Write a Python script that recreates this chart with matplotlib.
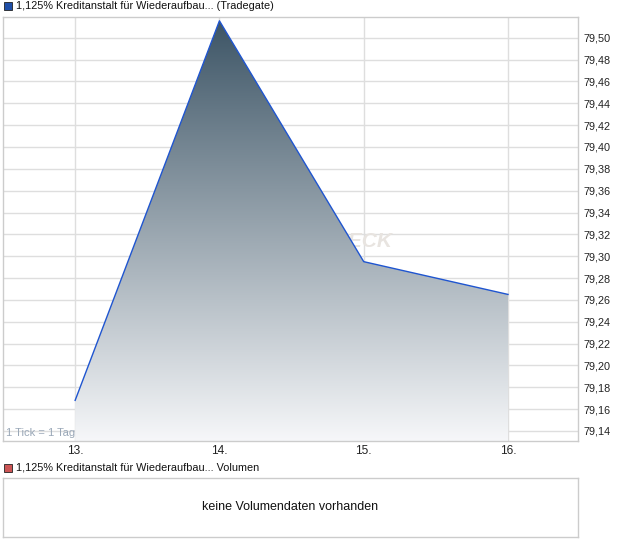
import matplotlib
matplotlib.use("Agg")
import matplotlib.pyplot as plt
import numpy as np
from matplotlib.patches import Polygon, Rectangle

plt.rcParams['font.family'] = ['Liberation Sans', 'DejaVu Sans']

days = [13, 14, 15, 16]
prices = [79.168, 79.5155, 79.295, 79.265]
xtick_labels = ["13.", "14.", "15.", "16."]
yticks = [79.14, 79.16, 79.18, 79.20, 79.22, 79.24, 79.26, 79.28, 79.30, 79.32,
          79.34, 79.36, 79.38, 79.40, 79.42, 79.44, 79.46, 79.48, 79.50]
title_main = "1,125% Kreditanstalt für Wiederaufbau... (Tradegate)"
title_vol = "1,125% Kreditanstalt für Wiederaufbau... Volumen"

W, H = 620, 546
fig = plt.figure(figsize=(W / 100, H / 100), dpi=100)

def fx(px):
    return px / W

def fy(py):
    return 1 - py / H

# main axes: x 3..578, y 17..441
ax = fig.add_axes([fx(3), fy(441), fx(578) - fx(3), fy(17) - fy(441)])
xmin, xmax = 12.5, 16.485
ymin, ymax = 79.1308, 79.519
ax.set_xlim(xmin, xmax)
ax.set_ylim(ymin, ymax)

ax.set_xticks(days)
ax.set_xticklabels(xtick_labels)
ax.set_yticks(yticks)
ax.set_yticklabels([f"{v:.2f}".replace('.', ',') for v in yticks])
ax.yaxis.tick_right()
ax.tick_params(axis='both', length=0, colors='#222222')
ax.tick_params(axis='y', pad=4, labelsize=7.8)
ax.tick_params(axis='x', pad=3, labelsize=8.6)
ax.grid(True, color='#dedede', linewidth=1, zorder=0)
ax.set_axisbelow(True)
for s in ax.spines.values():
    s.set_color('#cccccc')
    s.set_linewidth(1)

# watermark (mostly hidden behind fill)
ax.text(15.2, 79.313, "FINANZCHECK", ha='right', va='center', fontsize=15,
        fontstyle='italic', fontweight='bold', color='#e8e4e0', zorder=1)

ax.text(12.52, 79.1335, "1 Tick = 1 Tag", ha='left', va='bottom', fontsize=8,
        color='#9aa8b8', zorder=1)

# gradient fill
verts = [(days[0], ymin)] + list(zip(days, prices)) + [(days[-1], ymin)]
poly = Polygon(verts, closed=True, facecolor='none', edgecolor='none')
ax.add_patch(poly)
top = max(prices)
n = 256
grad = np.linspace(0, 1, n).reshape(-1, 1)
c_top = np.array([0x3d, 0x55, 0x66]) / 255
c_bot = np.array([0xf6, 0xf7, 0xf9]) / 255
img = c_bot + (c_top - c_bot) * grad
img = img.reshape(n, 1, 3)
im = ax.imshow(img, extent=[days[0], days[-1], ymin, top], origin='lower',
               aspect='auto', zorder=2, interpolation='bilinear')
im.set_clip_path(poly)
ax.set_xlim(xmin, xmax)
ax.set_ylim(ymin, ymax)

ax.plot(days, prices, color='#1f55d0', linewidth=1.0, zorder=3)

# main title with marker
fig.patches.append(Rectangle((fx(4), fy(10)), fx(8), fy(2) - fy(10),
                             transform=fig.transFigure, facecolor='#1f4fa8',
                             edgecolor='#222222', linewidth=0.6))
fig.text(fx(16), fy(6), title_main, ha='left', va='center', fontsize=7.8, color='#111111')

# volume title
fig.patches.append(Rectangle((fx(4), fy(472)), fx(8), fy(464) - fy(472),
                             transform=fig.transFigure, facecolor='#cc5555',
                             edgecolor='#222222', linewidth=0.6))
fig.text(fx(16), fy(468), title_vol, ha='left', va='center', fontsize=7.8, color='#111111')

# volume panel
axv = fig.add_axes([fx(3), fy(537), fx(578) - fx(3), fy(478) - fy(537)])
axv.set_xticks([])
axv.set_yticks([])
for s in axv.spines.values():
    s.set_color('#cccccc')
    s.set_linewidth(1)
axv.text(0.5, 0.5, "keine Volumendaten vorhanden", ha='center', va='center',
         fontsize=9, color='#111111', transform=axv.transAxes)

fig.savefig("out.png", dpi=100)
